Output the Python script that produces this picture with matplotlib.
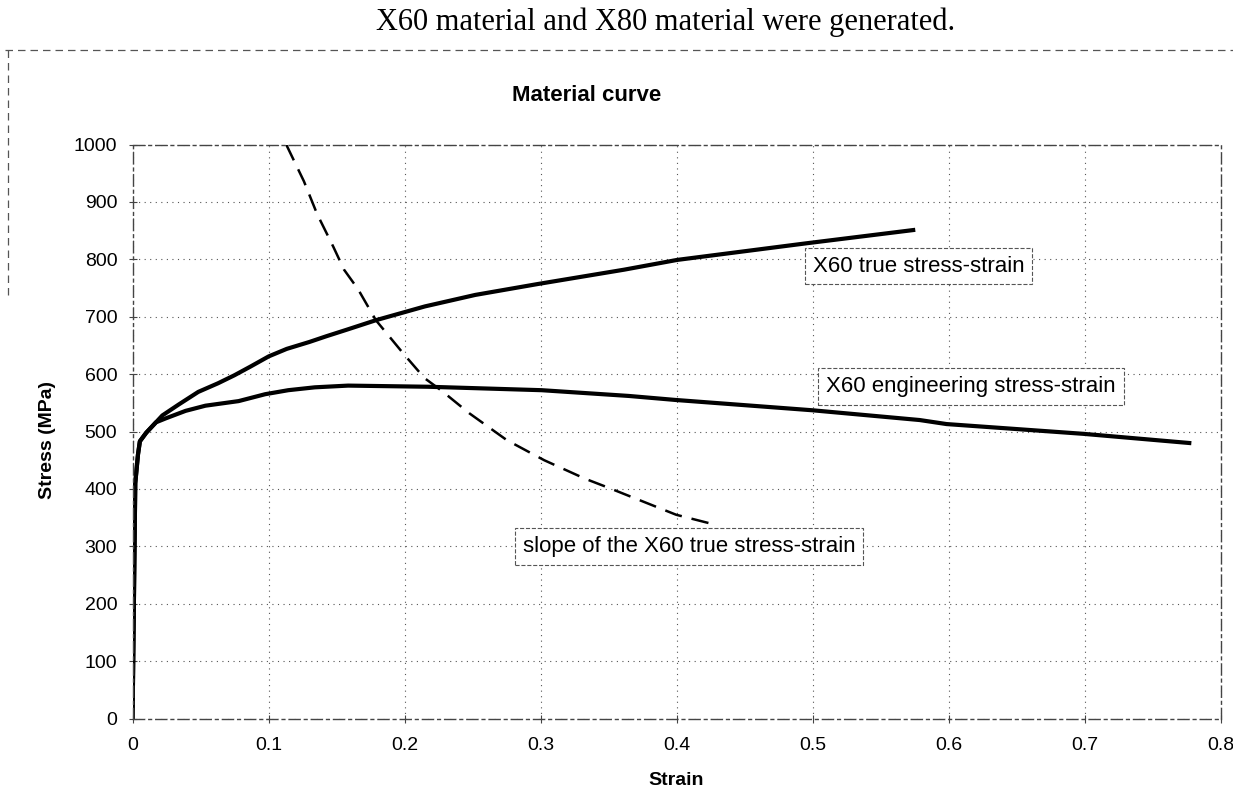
# material curve: X60 true / engineering stress-strain and slope
import numpy as np
import matplotlib
matplotlib.use('Agg')
from matplotlib import pyplot as plt
from matplotlib.lines import Line2D

# values
strain_true = [0, 0.002, 0.004, 0.0054, 0.0101, 0.0172, 0.0219, 0.0339, 0.0483, 0.0628,
               0.0749, 0.0866, 0.1002, 0.1134, 0.130, 0.1425, 0.157, 0.179, 0.215, 0.252,
               0.298, 0.3615, 0.4005, 0.4957, 0.574]
stress_true = [0, 410, 460, 483, 498, 516, 528, 547, 569, 584,
               598, 613, 631, 644, 656, 666, 677, 694, 718, 738,
               757, 782, 799, 828, 851]

strain_eng = [0, 0.002, 0.004, 0.0054, 0.0101, 0.0172, 0.0245, 0.039, 0.0536, 0.078,
              0.0975, 0.1145, 0.134, 0.1585, 0.2174, 0.3008, 0.3648, 0.3992, 0.5, 0.5788,
              0.5985, 0.699, 0.777]
stress_eng = [0, 410, 460, 483, 498, 516, 523, 536, 545, 553,
              565, 572, 577, 580, 578, 572, 562, 555, 537, 520,
              513, 496, 480]

strain_slope = [0.113, 0.126, 0.1357, 0.1476, 0.1555, 0.1658, 0.1789, 0.1994, 0.2147,
                0.2273, 0.2475, 0.2752, 0.3027, 0.3325, 0.35, 0.3997, 0.4245]
slope_true = [1000, 936, 879, 822, 782, 748, 694, 635, 593,
              571, 532, 485, 450, 418, 402, 355, 340]

x_ticks = [0, 0.1, 0.2, 0.3, 0.4, 0.5, 0.6, 0.7, 0.8]
x_tick_labels = ['0', '0.1', '0.2', '0.3', '0.4', '0.5', '0.6', '0.7', '0.8']
y_ticks = [0, 100, 200, 300, 400, 500, 600, 700, 800, 900, 1000]

labels = ['X60 true stress-strain', 'X60 engineering stress-strain',
          'slope of the X60 true stress-strain']
label_pos = [(0.500, 788), (0.510, 578), (0.287, 300)]

plt.rcParams['font.family'] = ['Liberation Sans', 'DejaVu Sans']

fig = plt.figure(figsize=(12.33, 7.92), dpi=100)
ax = fig.add_axes([0.1075, 0.0928, 0.8824, 0.7247])

ax.plot(strain_true, stress_true, color='black', lw=3, solid_joinstyle='round')
ax.plot(strain_eng, stress_eng, color='black', lw=3, solid_joinstyle='round')
ax.plot(strain_slope, slope_true, color='black', lw=1.8, linestyle=(0, (7, 4)))

ax.set_xlim(0, 0.8)
ax.set_ylim(0, 1000)
ax.set_xticks(x_ticks)
ax.set_xticklabels(x_tick_labels)
ax.set_yticks(y_ticks)
ax.tick_params(labelsize=14, direction='inout', length=6, width=0.8, color='#444')
ax.tick_params(axis='y', pad=8)
ax.tick_params(axis='x', pad=10)
ax.grid(True, linestyle=(0, (1, 4)), color='#555', lw=0.8)
for sp in ax.spines.values():
    sp.set_linestyle((0, (8, 3, 2, 3)))
    sp.set_color('#444')
    sp.set_linewidth(1.0)

for txt, (lx, ly) in zip(labels, label_pos):
    ax.text(lx, ly, txt, fontsize=16, ha='left', va='center',
            bbox=dict(boxstyle='square,pad=0.35', facecolor='white',
                      edgecolor='#555', lw=0.8, linestyle='--'))

fig.text(0.476, 0.880, 'Material curve', ha='center', va='center',
         fontsize=16, fontweight='bold')
fig.text(0.5487, 0.0145, 'Strain', ha='center', va='center',
         fontsize=14, fontweight='bold')
fig.text(0.0388, 0.4444, 'Stress (MPa)', ha='center', va='center',
         fontsize=14, fontweight='bold', rotation=90)

# line of document text above the chart
fig.text(0.54, 1 - 30 / 792, 'X60 material and X80 material were generated.',
         ha='center', va='baseline', family='Liberation Serif', fontsize=22)

# chart area border (dashed in the scan)
fig.add_artist(Line2D([0.004, 1.0], [1 - 50 / 792] * 2, transform=fig.transFigure,
                      color='#555', lw=0.9, linestyle=(0, (6, 4))))
fig.add_artist(Line2D([0.0065, 0.0065], [1 - 50 / 792, 1 - 295 / 792], transform=fig.transFigure,
                      color='#555', lw=0.9, linestyle=(0, (6, 4))))

plt.savefig('out.png', dpi=100)
print("Done.")
